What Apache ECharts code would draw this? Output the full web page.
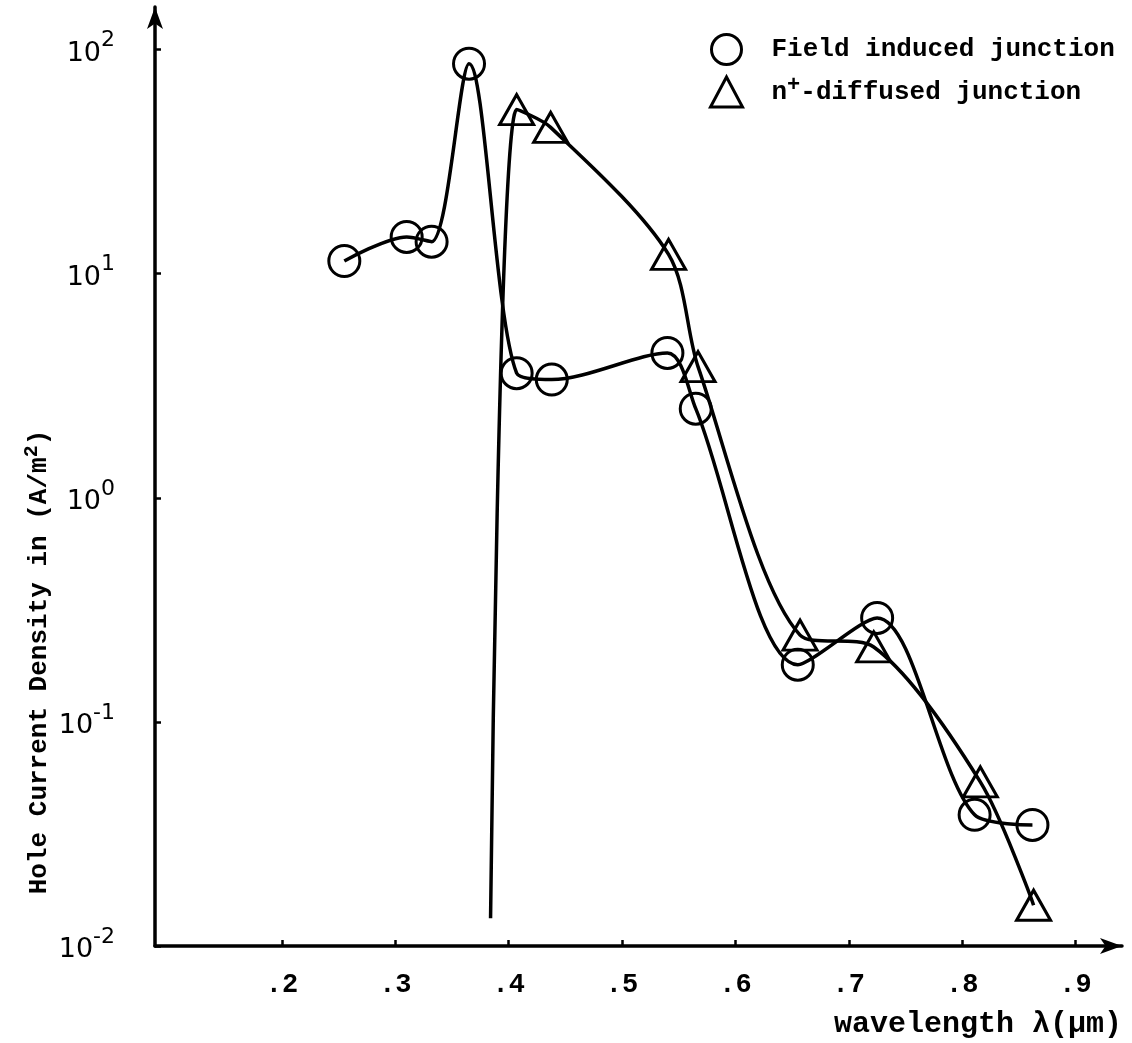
<!DOCTYPE html>
<html>
<head>
<meta charset="utf-8">
<script src="https://cdn.jsdelivr.net/npm/echarts@6/dist/echarts.min.js"></script>
<style>html,body{margin:0;padding:0;background:#fff;}#c{width:1132px;height:1043px;}</style>
</head>
<body>
<div id="c"></div>
<script>
// Field induced junction (circles)
const fieldX = [0.255, 0.310, 0.332, 0.365, 0.407, 0.438, 0.540, 0.565, 0.655, 0.725, 0.811, 0.862];
const fieldY = [11.4, 14.6, 13.9, 86.6, 3.6, 3.37, 4.43, 2.5, 0.18, 0.291, 0.0385, 0.0347];
// n+-diffused junction (triangles); first point is the curve's tail (no marker)
const diffX = [0.384, 0.407, 0.437, 0.541, 0.567, 0.657, 0.722, 0.816, 0.863];
const diffY = [0.0133, 54, 45, 12.2, 3.85, 0.244, 0.216, 0.054, 0.0152];
const xTicks = [0.2, 0.3, 0.4, 0.5, 0.6, 0.7, 0.8, 0.9];
const yTicks = [0.01, 0.1, 1, 10, 100];
const seriesNames = ['Field induced junction', 'n+-diffused junction'];

const FONT = '"Liberation Mono", "DejaVu Sans Mono", monospace';
const chart = echarts.init(document.getElementById('c'), null, {renderer: 'canvas'});

const fieldData = fieldX.map((x, i) => [x, fieldY[i]]);
const diffData = diffX.map((x, i) => i === 0 ? {value: [x, diffY[i]], symbol: 'none'} : [x, diffY[i]]);

chart.setOption({
  animation: false,
  backgroundColor: '#fff',
  grid: {left: 155, right: 10, top: 7, bottom: 97, containLabel: false},
  legend: {
    orient: 'vertical',
    left: 704,
    top: 28,
    itemWidth: 32,
    itemHeight: 30,
    itemGap: 8,
    data: [
      {name: seriesNames[0], icon: 'circle'},
      {name: seriesNames[1], icon: 'triangle'}
    ],
    itemStyle: {color: 'rgba(0,0,0,0)', borderColor: '#000', borderWidth: 3},
    formatter: function (n) {
      if (n === seriesNames[1]) return '{t|n}{s|+}{t|-diffused junction}';
      return '{t|' + n + '}';
    },
    textStyle: {
      color: '#000',
      padding: [0, 0, 0, 24],
      rich: {
        t: {fontFamily: FONT, fontSize: 26, fontWeight: 'bold', color: '#000'},
        s: {fontFamily: FONT, fontSize: 22, fontWeight: 'bold', color: '#000', padding: [0, 0, 14, 0]}
      }
    }
  },
  xAxis: {
    type: 'value',
    min: 0.088,
    max: 0.941,
    splitLine: {show: false},
    axisLine: {show: true, onZero: false, symbol: ['none', 'arrow'], symbolSize: [12, 22], lineStyle: {color: '#000', width: 3.5}},
    axisTick: {show: true, inside: true, length: 6, customValues: xTicks, lineStyle: {color: '#000', width: 2.5}},
    axisLabel: {
      customValues: xTicks,
      margin: 26,
      color: '#000',
      fontFamily: FONT,
      fontSize: 27,
      fontWeight: 'bold',
      formatter: v => '.' + Math.round(v * 10)
    }
  },
  yAxis: {
    type: 'log',
    logBase: 10,
    min: 0.01,
    max: 155,
    splitLine: {show: false},
    axisLine: {show: true, onZero: false, symbol: ['none', 'arrow'], symbolSize: [12, 22], lineStyle: {color: '#000', width: 3.5}},
    axisTick: {show: true, inside: true, length: 6, customValues: yTicks, lineStyle: {color: '#000', width: 2.5}},
    axisLabel: {
      customValues: yTicks,
      margin: 40,
      color: '#000',
      formatter: v => '{b|10}{s|' + Math.round(Math.log10(v)) + '}',
      rich: {
        b: {fontFamily: '"DejaVu Sans", sans-serif', fontSize: 27, color: '#000', padding: [8, 0, 0, 0]},
        s: {fontFamily: '"DejaVu Sans", sans-serif', fontSize: 22, color: '#000', padding: [0, 0, 18, 0]}
      }
    }
  },
  graphic: [
    {
      type: 'text',
      x: 39, y: 662,
      rotation: Math.PI / 2,
      style: {
        text: '{t|Hole Current Density in (A/m}{s|2}{t|)}',
        align: 'center',
        verticalAlign: 'middle',
        rich: {
          t: {fontFamily: FONT, fontSize: 26, fontWeight: 'bold', fill: '#000'},
          s: {fontFamily: FONT, fontSize: 20, fontWeight: 'bold', fill: '#000', padding: [0, 0, 14, 0]}
        }
      }
    },
    {
      type: 'text',
      x: 1122, y: 1024,
      style: {
        text: 'wavelength λ(μm)',
        align: 'right',
        verticalAlign: 'middle',
        fontFamily: FONT,
        fontSize: 30,
        fontWeight: 'bold',
        fill: '#000'
      }
    }
  ],
  series: [
    {
      name: seriesNames[0],
      type: 'line',
      smooth: 0.3,
      data: fieldData,
      symbol: 'circle',
      symbolSize: 31,
      lineStyle: {color: '#000', width: 3.5},
      itemStyle: {color: 'rgba(0,0,0,0)', borderColor: '#000', borderWidth: 3},
      z: 3
    },
    {
      name: seriesNames[1],
      type: 'line',
      smooth: 0.3,
      data: diffData,
      symbol: 'triangle',
      symbolSize: [34, 30],
      lineStyle: {color: '#000', width: 3.5},
      itemStyle: {color: 'rgba(0,0,0,0)', borderColor: '#000', borderWidth: 3},
      z: 3
    }
  ]
});
</script>
</body>
</html>
